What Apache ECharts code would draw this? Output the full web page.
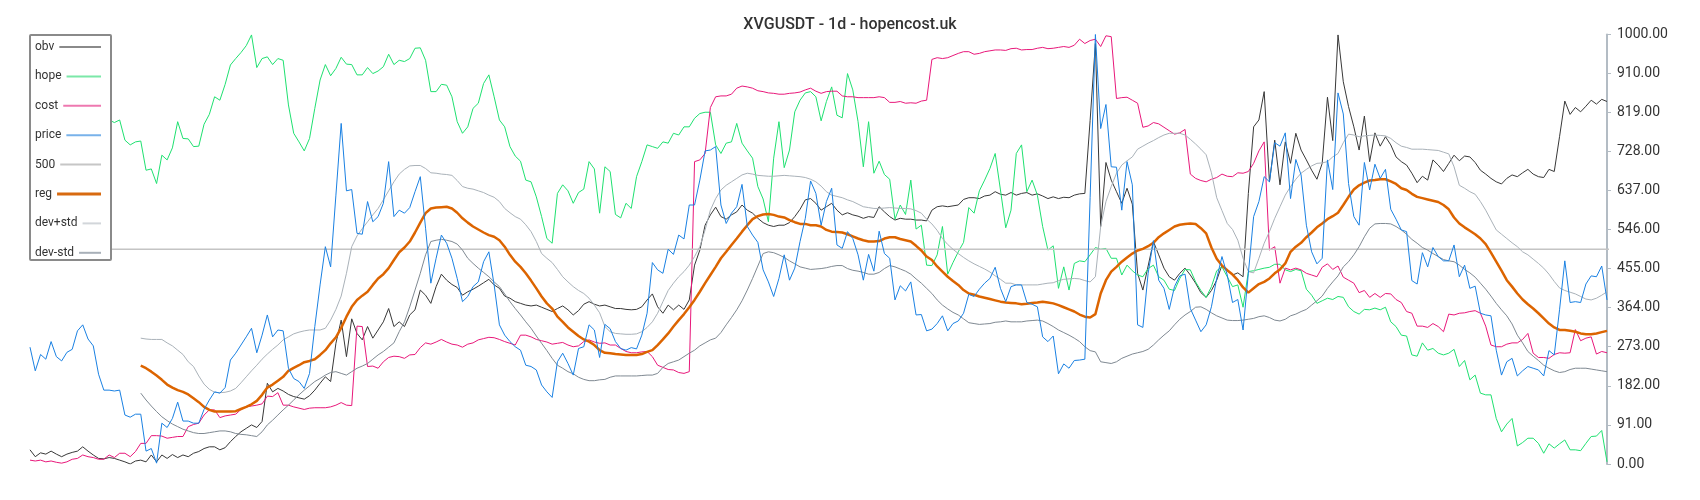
<!DOCTYPE html>
<html>
<head>
<meta charset="utf-8">
<script src="https://cdn.jsdelivr.net/npm/echarts@6/dist/echarts.min.js"></script>
<style>
html,body{margin:0;padding:0;background:#fff;}
#chart{width:1700px;height:500px;}
</style>
</head>
<body>
<div id="chart"></div>
<script>
var titleText = 'XVGUSDT - 1d - hopencost.uk';
var seriesNames = ['obv','hope','cost','price','500','reg','dev+std','dev-std'];

var price = [272,217,255,244,285,250,240,260,267,310,324,291,275,209,172,172,170,172,114,109,116,116,30,36,2,95,85,106,144,100,100,95,95,127,149,168,165,178,242,258,277,296,316,259,300,347,296,312,310,223,199,192,176,211,320,417,506,459,626,793,636,639,537,535,611,564,576,607,704,576,591,584,597,634,669,549,421,479,533,514,479,432,378,390,413,424,471,494,417,324,300,285,273,265,230,227,219,184,168,155,238,258,234,207,269,273,324,312,248,325,315,285,269,265,271,268,300,351,469,452,444,500,488,533,524,603,603,661,729,731,739,603,560,584,599,651,553,533,516,452,424,390,432,487,428,456,518,572,659,630,556,611,642,510,502,541,525,487,428,488,449,542,490,479,382,415,403,424,347,348,310,314,327,345,310,327,333,351,395,390,407,421,432,458,409,378,413,417,417,376,372,366,296,285,298,210,233,223,241,242,244,620,1000,781,837,692,691,591,704,650,324,318,444,520,428,409,360,413,438,442,362,335,308,324,366,432,483,440,376,383,312,444,576,611,669,657,748,740,771,618,709,673,556,494,466,479,708,639,864,815,653,576,556,702,638,698,665,686,593,570,545,541,427,419,492,459,504,483,473,473,510,436,463,409,414,351,347,345,265,207,238,246,205,217,227,223,219,205,264,254,359,473,376,378,376,419,438,436,461,382];

var hope = [null,null,null,null,null,null,null,null,null,null,null,null,null,null,795,801,795,801,754,743,750,752,684,687,653,719,708,736,797,758,757,739,740,791,814,855,847,884,929,944,958,974,999,923,944,948,930,944,940,836,770,750,729,758,828,894,930,904,921,947,931,930,906,906,923,909,915,925,954,930,940,937,944,968,969,940,867,867,884,882,855,797,770,785,828,840,886,906,855,801,785,739,717,705,661,657,622,576,525,514,630,650,636,607,632,640,704,687,584,692,681,581,573,607,595,669,704,743,739,735,750,747,770,766,785,785,805,816,819,819,743,723,747,750,793,747,729,712,646,617,564,712,797,690,731,820,847,864,867,855,799,844,878,812,806,909,871,797,692,797,677,705,674,663,570,603,581,661,547,556,463,462,487,553,442,469,494,516,597,584,636,661,688,723,638,550,591,723,743,634,661,626,553,498,508,409,459,405,467,473,471,487,504,500,502,479,479,440,463,450,440,436,455,463,436,428,407,404,432,453,452,424,404,388,413,450,459,436,413,417,365,448,450,453,456,458,465,465,452,448,453,450,407,393,374,380,386,383,390,388,366,355,349,360,359,363,359,365,331,320,300,298,254,251,282,265,269,258,254,258,267,227,241,196,207,165,161,161,106,75,93,106,42,50,60,60,48,25,47,37,47,56,33,33,31,48,64,65,78,5];

var obv = [33,17,26,23,30,23,17,23,27,30,40,30,21,13,12,15,13,9,5,0,7,9,5,21,5,21,13,22,15,21,17,25,29,36,40,40,33,38,52,64,75,83,91,85,99,188,168,176,170,162,157,154,151,159,172,188,203,192,281,335,250,338,304,289,320,293,312,331,362,320,331,320,347,359,405,393,374,413,442,428,418,411,393,401,407,414,422,430,417,409,391,386,378,374,370,368,370,365,360,355,362,368,359,347,357,372,378,372,368,370,366,362,362,360,359,360,366,382,396,366,351,370,359,370,360,382,463,498,556,580,598,576,570,580,587,603,591,584,572,562,556,553,556,556,562,576,593,615,618,607,591,599,607,591,580,585,580,577,572,576,574,599,587,576,568,572,570,570,568,568,566,591,599,601,599,601,603,616,620,620,618,624,626,634,628,626,632,626,630,632,626,629,624,618,622,618,621,620,626,629,630,800,979,553,702,661,634,607,642,605,444,405,461,518,487,456,436,428,444,456,440,421,399,388,404,428,463,450,440,445,436,630,785,801,867,657,754,650,750,700,770,731,708,684,663,700,854,753,999,890,832,785,731,810,704,771,740,762,743,715,704,696,677,655,670,661,708,696,681,700,719,706,717,715,702,684,675,665,657,652,665,673,669,678,686,675,669,667,686,681,762,845,814,830,820,833,847,838,849,844];

var cost = [9,7,9,5,7,4,2,5,11,13,21,17,15,11,11,21,15,25,25,17,29,48,48,66,66,65,60,62,64,64,87,92,95,114,126,126,108,112,114,116,127,133,135,137,140,158,157,166,137,137,133,130,127,130,131,131,131,133,137,143,137,136,321,320,227,228,223,238,248,251,250,246,254,255,271,282,279,284,290,284,279,277,272,279,282,289,292,295,294,290,285,281,277,300,300,296,290,287,284,279,281,283,277,273,275,285,289,284,281,282,277,277,269,262,259,259,261,262,250,230,225,220,219,213,211,215,704,708,723,830,855,857,857,861,875,880,878,875,869,867,864,863,861,861,863,864,866,871,875,868,863,867,868,868,857,855,855,853,853,853,853,855,853,842,842,844,840,841,840,845,847,942,946,944,946,951,956,960,960,954,956,960,962,964,964,963,967,968,964,965,965,968,970,967,968,970,972,970,975,989,979,986,989,972,997,995,851,853,854,847,840,784,787,795,792,784,776,768,771,779,675,665,660,657,663,667,675,670,669,678,677,681,700,729,750,498,506,421,456,452,456,452,444,440,436,458,466,453,461,435,428,421,399,404,388,397,388,397,396,383,376,355,351,321,321,318,327,320,308,349,347,351,352,355,357,351,321,277,273,273,279,282,282,290,304,258,248,248,246,255,259,258,259,313,287,293,296,256,262,259];

var level500 = [500,500,500,500,500,500,500,500,500,500,500,500,500,500,500,500,500,500,500,500,500,500,500,500,500,500,500,500,500,500,500,500,500,500,500,500,500,500,500,500,500,500,500,500,500,500,500,500,500,500,500,500,500,500,500,500,500,500,500,500,500,500,500,500,500,500,500,500,500,500,500,500,500,500,500,500,500,500,500,500,500,500,500,500,500,500,500,500,500,500,500,500,500,500,500,500,500,500,500,500,500,500,500,500,500,500,500,500,500,500,500,500,500,500,500,500,500,500,500,500,500,500,500,500,500,500,500,500,500,500,500,500,500,500,500,500,500,500,500,500,500,500,500,500,500,500,500,500,500,500,500,500,500,500,500,500,500,500,500,500,500,500,500,500,500,500,500,500,500,500,500,500,500,500,500,500,500,500,500,500,500,500,500,500,500,500,500,500,500,500,500,500,500,500,500,500,500,500,500,500,500,500,500,500,500,500,500,500,500,500,500,500,500,500,500,500,500,500,500,500,500,500,500,500,500,500,500,500,500,500,500,500,500,500,500,500,500,500,500,500,500,500,500,500,500,500,500,500,500,500,500,500,500,500,500,500,500,500,500,500,500,500,500,500,500,500,500,500,500,500,500,500,500,500,500,500,500,500,500,500,500,500,500,500,500,500,500,500,500,500,500,500,500,500,500,500,500,500,500,500,500,500,500,500,500,500,500,500,500,500,500,500,500,500,500,500,500,500,500,500];

var reg = [null,null,null,null,null,null,null,null,null,null,null,null,null,null,null,null,null,null,null,null,null,229,223,215,206,196,185,178,172,168,162,153,144,133,126,122,122,122,122,123,128,133,139,147,161,178,185,194,203,217,224,230,237,240,244,254,265,281,295,317,343,366,382,392,401,417,432,442,456,475,493,504,518,539,562,584,595,597,598,599,595,585,572,562,553,546,539,533,529,521,506,487,471,459,444,427,409,390,374,362,343,331,318,308,298,290,285,277,265,259,258,256,255,254,254,254,256,261,265,277,290,304,320,335,349,365,382,401,421,440,459,479,494,510,525,541,556,570,577,581,582,580,576,574,568,563,559,559,556,556,553,545,541,540,539,535,530,525,521,518,518,519,525,528,528,524,521,518,508,497,483,475,460,448,436,426,417,405,397,394,390,387,384,381,378,376,375,374,372,373,375,376,378,376,374,370,365,360,355,348,343,341,349,397,428,448,459,471,481,490,497,501,507,515,528,537,545,553,557,559,560,559,549,537,504,478,462,451,441,428,411,399,409,419,424,432,444,453,467,494,506,515,528,539,551,560,570,577,585,603,622,639,649,655,660,661,663,663,658,652,642,638,629,622,619,616,613,610,603,593,574,560,551,543,535,525,512,492,471,450,428,413,397,383,372,362,351,339,327,318,312,312,310,308,304,302,302,304,307,310];

var devPlus = [null,null,null,null,null,null,null,null,null,null,null,null,null,null,null,null,null,null,null,null,null,293,291,290,290,290,282,275,265,255,238,227,205,186,174,167,166,167,170,176,189,203,217,230,244,256,267,277,289,296,303,307,310,312,312,312,316,335,360,391,444,506,531,548,564,580,595,615,636,657,675,686,694,695,695,688,678,677,675,674,672,660,646,642,640,636,632,626,621,611,595,585,576,570,557,541,518,490,479,469,453,436,424,413,404,397,386,370,352,320,308,304,303,302,302,303,308,318,331,351,378,404,421,436,448,463,483,506,545,591,618,638,649,657,665,673,677,675,672,671,670,670,671,672,671,670,669,667,663,657,647,634,626,623,620,615,611,605,599,597,595,595,596,597,596,595,595,594,590,584,570,559,544,525,511,500,490,481,473,466,460,454,447,438,430,421,421,417,417,417,417,417,419,421,422,427,430,431,432,431,427,424,436,553,611,646,677,696,706,715,733,740,747,753,760,766,770,770,770,766,756,745,733,720,678,620,590,560,546,521,479,448,445,479,514,541,572,599,626,646,663,677,686,694,700,701,704,715,723,748,768,766,762,764,765,766,765,764,758,748,740,737,733,733,733,732,731,730,726,722,692,649,642,634,628,611,591,568,545,535,525,515,506,494,487,477,467,456,442,425,410,404,400,396,390,384,382,386,393,401];

var devMinus = [null,null,null,null,null,null,null,null,null,null,null,null,null,null,null,null,null,null,null,null,null,165,149,135,122,110,101,93,87,81,77,73,71,71,73,75,77,77,75,71,69,68,66,64,75,91,102,114,126,137,149,161,172,182,192,199,207,213,215,211,207,215,223,228,234,244,254,262,272,282,308,331,366,405,444,487,518,521,523,521,518,512,498,479,467,456,446,436,424,413,396,378,362,347,331,316,298,281,264,246,230,223,215,210,202,197,194,194,196,197,202,205,205,205,205,205,206,207,207,211,225,234,238,242,250,258,265,275,282,289,293,306,324,341,359,380,405,432,461,490,494,492,487,481,473,466,459,456,453,454,455,457,460,462,462,455,451,449,446,442,442,446,455,462,459,454,449,442,431,421,409,397,382,370,361,353,347,338,329,327,325,326,327,330,331,333,331,331,331,333,334,335,333,327,320,312,306,300,293,285,273,264,261,238,236,234,238,246,251,256,259,262,267,277,289,300,310,324,337,347,355,365,366,360,352,345,340,335,334,334,335,337,339,343,345,341,335,333,337,345,349,355,360,370,380,391,409,424,438,459,471,487,506,529,549,559,560,560,559,553,545,535,523,514,504,498,490,483,476,473,471,463,453,445,435,421,407,391,374,359,345,326,300,282,262,251,241,230,223,217,213,215,220,223,223,223,221,219,217,215];

var categories = price.map(function (_, i) { return i; });

var lineColors = {
  'obv': '#383838', 'hope': '#1fe070', 'cost': '#e8187a', 'price': '#1a80e2',
  '500': '#c4c4c4', 'reg': '#dc6400', 'dev+std': '#aab2b9', 'dev-std': '#7f8992'
};
var iconColors = {
  'obv': '#8a8a8a', 'hope': '#7be8a8', 'cost': '#ee78b0', 'price': '#78b2ea',
  '500': '#c6c6c6', 'reg': '#d86a10', 'dev+std': '#d2d6da', 'dev-std': '#a8b0b8'
};
var seriesData = {
  'obv': obv, 'hope': hope, 'cost': cost, 'price': price, '500': level500,
  'reg': reg, 'dev+std': devPlus, 'dev-std': devMinus
};

var chart = echarts.init(document.getElementById('chart'), null, {renderer: 'canvas'});

var cvs = document.createElement('canvas').getContext('2d');
cvs.font = '12px Roboto';
var legends = seriesNames.map(function (name, k) {
  var tw = cvs.measureText(name).width;
  return {
    data: [{name: name, icon: 'rect'}],
    orient: 'vertical',
    left: 35,
    top: 40 + k * 29.4,
    align: 'right',
    itemWidth: Math.max(10, 61 - tw),
    itemHeight: name === 'reg' ? 3 : 2,
    padding: 0,
    z: 20,
    selectedMode: false,
    textStyle: {fontSize: 12, color: '#333', fontFamily: 'Roboto', lineHeight: 14},
    itemStyle: {color: iconColors[name], borderWidth: 0}
  };
});

var series = seriesNames.map(function (name) {
  var w = 1;
  if (name === 'reg') w = 2.5;
  if (name === '500') w = 1.5;
  return {
    name: name,
    type: 'line',
    data: seriesData[name],
    symbol: 'none',
    showSymbol: false,
    connectNulls: false,
    lineStyle: {color: lineColors[name], width: w},
    itemStyle: {color: lineColors[name]},
    emphasis: {disabled: true},
    z: name === 'price' ? 4 : (name === 'reg' ? 3 : 2)
  };
});

chart.setOption({
  animation: false,
  backgroundColor: '#fff',
  title: {
    text: titleText, left: 'center', top: 12,
    textStyle: {fontSize: 16, fontWeight: 500, color: '#333', fontFamily: 'Roboto'}
  },
  graphic: [{
    type: 'rect', z: 10,
    shape: {x: 30, y: 35, width: 81, height: 225, r: 1},
    style: {fill: '#fff', stroke: '#8a8a8a', lineWidth: 2}
  }],
  legend: legends,
  grid: {left: 30, right: 93, top: 34.5, bottom: 36},
  xAxis: {type: 'category', data: categories, boundaryGap: false, show: false},
  yAxis: {
    type: 'value', position: 'right', min: 0, max: 1000, interval: 91,
    axisLine: {show: true, lineStyle: {color: '#b3bcc4', width: 2}},
    axisTick: {show: true, length: 4, lineStyle: {color: '#b3bcc4', width: 1}},
    splitLine: {show: false},
    axisLabel: {
      margin: 10, fontSize: 14, color: '#333', fontFamily: 'Roboto',
      formatter: function (v) { return v.toFixed(2); }
    }
  },
  series: series
});
</script>
</body>
</html>
